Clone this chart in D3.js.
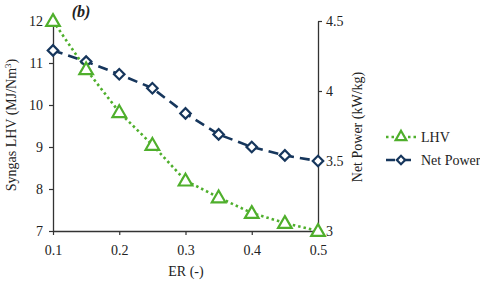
<!DOCTYPE html>
<html>
<head>
<meta charset="utf-8">
<script src="https://cdn.jsdelivr.net/npm/d3@7"></script>
<style>
  body { margin: 0; background: #fff; }
  text { font-family: "Liberation Serif", "Times New Roman", serif; fill: #222; }
</style>
</head>
<body>
<div id="main"></div>
<script>
// Data
const er = [0.1, 0.15, 0.2, 0.25, 0.3, 0.35, 0.4, 0.45, 0.5];
const lhv = [12.0, 10.85, 9.83, 9.05, 8.2, 7.8, 7.43, 7.19, 7.0];
const netPower = [4.29, 4.21, 4.12, 4.02, 3.84, 3.69, 3.6, 3.54, 3.5];

const xTicks = [0.1, 0.2, 0.3, 0.4, 0.5];
const yLeftTicks = [7, 8, 9, 10, 11, 12];
const yRightTicks = [3, 3.5, 4, 4.5];

const green = '#4faf2c';
const navy = '#16365c';

const w = 480, h = 283;
const plotL = 53, plotR = 318, plotT = 21, plotB = 231;

const svg = d3.select('#main')
    .append('svg')
    .attr('width', w)
    .attr('height', h);

const xScale = d3.scaleLinear().domain([0.1, 0.5]).range([plotL, plotR]);
const yLeft = d3.scaleLinear().domain([7, 12]).range([plotB, plotT]);
const yRight = d3.scaleLinear().domain([3, 4.5]).range([plotB, plotT]);

// axes
const xAxis = d3.axisBottom(xScale).tickValues(xTicks).tickFormat(d3.format('.1f')).tickSize(4).tickSizeOuter(0);
const yAxisL = d3.axisLeft(yLeft).tickValues(yLeftTicks).tickFormat(d3.format('d')).tickSize(4).tickSizeOuter(0);
const yAxisR = d3.axisRight(yRight).tickValues(yRightTicks).tickFormat((d) => String(d)).tickSize(4).tickSizeOuter(0);

function styleAxis(g) {
    g.select('.domain').attr('stroke', '#333').attr('stroke-width', 1.3);
    g.selectAll('.tick line').attr('stroke', '#333').attr('stroke-width', 1.2);
    g.selectAll('.tick text').style('font-family', '"Liberation Serif", serif').style('font-size', '14px').attr('fill', '#222');
}

svg.append('g').attr('transform', `translate(0, ${plotB})`).call(xAxis).call(styleAxis)
    .selectAll('.tick text').attr('dy', '1.2em');
svg.append('g').attr('transform', `translate(${plotL}, 0)`).call(yAxisL).call(styleAxis)
    .selectAll('.tick text').attr('x', -10);
svg.append('g').attr('transform', `translate(${plotR}, 0)`).call(yAxisR).call(styleAxis)
    .selectAll('.tick text').attr('x', 8);

// axis titles
svg.append('text')
    .attr('transform', `translate(16, 125) rotate(-90)`)
    .attr('text-anchor', 'middle')
    .style('font-size', '14px')
    .html('Syngas LHV (MJ/Nm<tspan dy="-5" font-size="9">3</tspan><tspan dy="5">)</tspan>');

svg.append('text')
    .attr('transform', `translate(362, 127) rotate(-90)`)
    .attr('text-anchor', 'middle')
    .style('font-size', '14px')
    .text('Net Power (kW/kg)');

svg.append('text')
    .attr('x', 186).attr('y', 276)
    .attr('text-anchor', 'middle')
    .style('font-size', '14px')
    .text('ER (-)');

svg.append('text')
    .attr('x', 81).attr('y', 17)
    .attr('text-anchor', 'middle')
    .style('font-size', '16px')
    .style('font-style', 'italic')
    .style('font-weight', 'bold')
    .text('(b)');

// lines
const lineL = d3.line().x((d, i) => xScale(er[i])).y((d) => yLeft(d));
const lineR = d3.line().x((d, i) => xScale(er[i])).y((d) => yRight(d));

svg.append('path').datum(netPower)
    .attr('d', lineR)
    .attr('fill', 'none')
    .attr('stroke', navy)
    .attr('stroke-width', 2.6)
    .attr('stroke-dasharray', '10,6');

svg.append('path').datum(lhv)
    .attr('d', lineL)
    .attr('fill', 'none')
    .attr('stroke', green)
    .attr('stroke-width', 2.6)
    .attr('stroke-dasharray', '2.5,3');

const diamond = d3.symbol().type(d3.symbolSquare).size(55);
const triangle = d3.symbol().type(d3.symbolTriangle).size(80);

svg.selectAll('.np')
    .data(netPower)
    .enter()
    .append('path')
    .attr('class', 'np')
    .attr('d', diamond)
    .attr('transform', (d, i) => `translate(${xScale(er[i])}, ${yRight(d)}) rotate(45)`)
    .attr('fill', '#fff')
    .attr('stroke', navy)
    .attr('stroke-width', 2.2);

svg.selectAll('.lhv')
    .data(lhv)
    .enter()
    .append('path')
    .attr('class', 'lhv')
    .attr('d', triangle)
    .attr('transform', (d, i) => `translate(${xScale(er[i])}, ${yLeft(d) + 1})`)
    .attr('fill', '#fff')
    .attr('stroke', green)
    .attr('stroke-width', 2.2);

// legend
const legend = svg.append('g').attr('transform', 'translate(386, 0)');
legend.append('line').attr('x1', 0).attr('x2', 30).attr('y1', 137).attr('y2', 137)
    .attr('stroke', green).attr('stroke-width', 2.6).attr('stroke-dasharray', '2.5,3');
legend.append('path').attr('d', d3.symbol().type(d3.symbolTriangle).size(50)).attr('transform', 'translate(15, 137)')
    .attr('fill', '#fff').attr('stroke', green).attr('stroke-width', 2.2);
legend.append('text').attr('x', 35).attr('y', 142).style('font-size', '14px').text('LHV');

legend.append('line').attr('x1', 0).attr('x2', 30).attr('y1', 160).attr('y2', 160)
    .attr('stroke', navy).attr('stroke-width', 2.6).attr('stroke-dasharray', '9,7');
legend.append('path').attr('d', d3.symbol().type(d3.symbolSquare).size(35)).attr('transform', 'translate(15, 160) rotate(45)')
    .attr('fill', '#fff').attr('stroke', navy).attr('stroke-width', 2.2);
legend.append('text').attr('x', 35).attr('y', 165).style('font-size', '14px').text('Net Power');
</script>
</body>
</html>
